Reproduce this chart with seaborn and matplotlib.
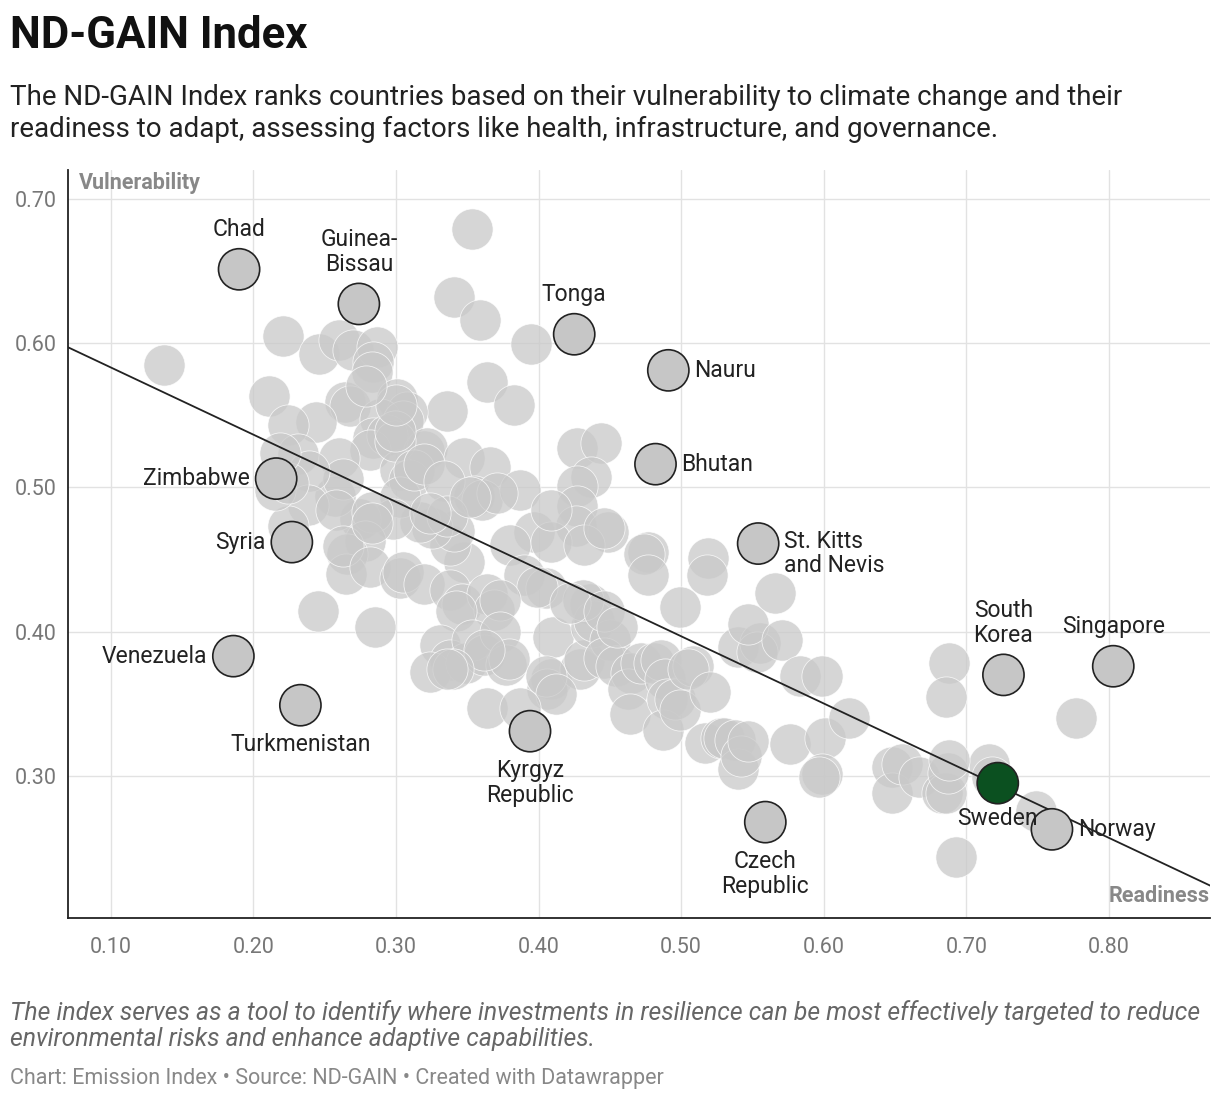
import matplotlib
matplotlib.use("Agg")
import matplotlib.pyplot as plt
import seaborn as sns
import pandas as pd
import numpy as np

bg_points = [
(0.137,0.585),(0.221,0.605),(0.246,0.592),(0.211,0.563),(0.260,0.602),(0.270,0.595),(0.287,0.597),(0.284,0.587),
(0.283,0.580),(0.341,0.632),(0.353,0.679),(0.359,0.616),(0.395,0.599),(0.364,0.573),(0.383,0.557),(0.336,0.553),
(0.301,0.561),(0.308,0.552),(0.264,0.559),(0.268,0.556),(0.244,0.545),(0.224,0.543),(0.231,0.523),(0.289,0.547),
(0.284,0.534),(0.305,0.546),(0.294,0.536),(0.282,0.526),(0.260,0.520),(0.320,0.525),(0.303,0.512),(0.322,0.527),
(0.348,0.520),(0.366,0.514),(0.355,0.494),(0.360,0.491),(0.387,0.498),(0.371,0.496),(0.427,0.527),(0.444,0.531),
(0.437,0.507),(0.427,0.501),(0.427,0.487),(0.426,0.473),(0.449,0.469),(0.397,0.469),(0.380,0.460),(0.409,0.462),
(0.390,0.439),(0.405,0.430),(0.399,0.431),(0.348,0.448),(0.338,0.460),(0.341,0.470),(0.325,0.472),(0.317,0.476),
(0.309,0.505),(0.303,0.493),(0.298,0.478),(0.275,0.478),(0.257,0.494),(0.263,0.506),(0.239,0.511),(0.238,0.488),
(0.224,0.473),(0.215,0.498),(0.258,0.484),(0.283,0.483),(0.278,0.463),(0.266,0.454),(0.265,0.440),(0.263,0.459),
(0.282,0.445),(0.303,0.437),(0.305,0.441),(0.320,0.433),(0.338,0.429),(0.346,0.419),(0.364,0.426),(0.369,0.415),
(0.373,0.422),(0.342,0.414),(0.331,0.391),(0.338,0.380),(0.324,0.372),(0.349,0.378),(0.353,0.394),(0.362,0.384),
(0.373,0.400),(0.377,0.377),(0.379,0.381),(0.364,0.347),(0.410,0.396),(0.409,0.367),(0.406,0.360),(0.429,0.374),
(0.432,0.380),(0.436,0.419),(0.437,0.403),(0.439,0.407),(0.450,0.394),(0.446,0.382),(0.454,0.376),(0.465,0.371),
(0.463,0.360),(0.464,0.343),(0.472,0.378),(0.481,0.378),(0.486,0.380),(0.489,0.367),(0.490,0.353),(0.487,0.332),
(0.496,0.353),(0.499,0.346),(0.508,0.376),(0.505,0.374),(0.520,0.358),(0.517,0.323),(0.528,0.326),(0.530,0.326),
(0.538,0.325),(0.540,0.305),(0.542,0.314),(0.547,0.324),(0.540,0.389),(0.555,0.392),(0.553,0.386),(0.547,0.405),
(0.571,0.394),(0.566,0.427),(0.519,0.451),(0.518,0.439),(0.499,0.417),(0.477,0.455),(0.474,0.454),(0.477,0.439),
(0.576,0.322),(0.583,0.369),(0.599,0.369),(0.601,0.326),(0.599,0.301),(0.597,0.299),(0.618,0.340),(0.648,0.306),
(0.648,0.288),(0.655,0.308),(0.667,0.299),(0.683,0.288),(0.686,0.288),(0.687,0.302),(0.688,0.378),(0.686,0.355),
(0.716,0.308),(0.718,0.299),(0.688,0.311),(0.693,0.244),(0.749,0.276),(0.777,0.340),(0.245,0.414),(0.285,0.403),
(0.224,0.503),(0.219,0.524),(0.299,0.532),(0.299,0.539),(0.300,0.557),(0.279,0.570),(0.283,0.475),(0.313,0.512),
(0.320,0.516),(0.334,0.504),(0.336,0.480),(0.352,0.493),(0.324,0.482),(0.409,0.484),(0.432,0.460),(0.446,0.472),
(0.431,0.422),(0.422,0.420),(0.446,0.414),(0.455,0.403),(0.405,0.369),(0.412,0.357),(0.387,0.347),(0.362,0.387),
(0.340,0.374),(0.336,0.374),
]
bg_x = [p[0] for p in bg_points]
bg_y = [p[1] for p in bg_points]

lab_names = ["Chad","Guinea-\nBissau","Tonga","Nauru","Bhutan","St. Kitts\nand Nevis","Zimbabwe","Syria",
             "Venezuela","Turkmenistan","Kyrgyz\nRepublic","Czech\nRepublic","South\nKorea","Singapore","Sweden","Norway"]
lab_x = [0.190,0.274,0.425,0.491,0.482,0.554,0.216,0.227,0.186,0.233,0.394,0.559,0.726,0.803,0.722,0.760]
lab_y = [0.651,0.627,0.606,0.581,0.516,0.461,0.506,0.462,0.383,0.349,0.331,0.268,0.370,0.376,0.295,0.263]
lab_pos = [(0,28,"center","bottom"),(0,28,"center","bottom"),(0,28,"center","bottom"),(26,0,"left","center"),
           (26,0,"left","center"),(26,0,"left","top_c"),(-26,0,"right","center"),(-26,0,"right","center"),
           (-26,0,"right","center"),(0,-28,"center","top"),(0,-28,"center","top"),(0,-28,"center","top"),
           (0,28,"center","bottom"),(0,28,"center","bottom"),(0,-24,"center","top"),(26,0,"left","center")]

trend_x = [0.07, 0.871]
trend_y = [0.597, 0.224]

sns.set_theme(style="white")
plt.rcParams['font.family'] = ['Roboto', 'DejaVu Sans']

fig = plt.figure(figsize=(12.2, 11.02), dpi=100)
ax = fig.add_axes([0.0557, 0.167, 0.9363, 0.679])

ax.set_xlim(0.07, 0.871)
ax.set_ylim(0.2016, 0.72)
ax.set_xticks([0.1,0.2,0.3,0.4,0.5,0.6,0.7,0.8])
ax.set_yticks([0.3,0.4,0.5,0.6,0.7])
ax.grid(True, color="#e2e2e2", lw=1)
ax.set_axisbelow(True)
for s in ["top","right"]:
    ax.spines[s].set_visible(False)
for s in ["left","bottom"]:
    ax.spines[s].set_color("#222222"); ax.spines[s].set_linewidth(1.3)
ax.tick_params(axis="both", length=0, labelsize=15.5, labelcolor="#777777")
ax.tick_params(axis="x", pad=14)
ax.tick_params(axis="y", pad=8)
ax.set_xticklabels([f"{v:.2f}" for v in ax.get_xticks()])
ax.set_yticklabels([f"{v:.2f}" for v in ax.get_yticks()])

sns.scatterplot(x=bg_x, y=bg_y, ax=ax, s=880, color="#c9c9c9", alpha=0.75, edgecolor="white", linewidth=0.6, zorder=2)
ax.plot(trend_x, trend_y, color="#222222", lw=1.3, zorder=3)
colors = ["#0b5020" if n == "Sweden" else "#c6c6c6" for n in lab_names]
sns.scatterplot(x=lab_x, y=lab_y, ax=ax, s=880, c=colors, edgecolor="#222222", linewidth=1.2, zorder=4)

for n, x, y, (dx, dy, ha, va) in zip(lab_names, lab_x, lab_y, lab_pos):
    if va == "top_c":
        ax.annotate(n, (x, y), xytext=(dx, 14), textcoords="offset pixels", ha=ha, va="top",
                    fontsize=16.5, color="#222222", linespacing=1.1, zorder=5)
    else:
        ax.annotate(n, (x, y), xytext=(dx, dy), textcoords="offset pixels", ha=ha, va=va,
                    fontsize=16.5, color="#222222", linespacing=1.1, zorder=5)

ax.text(0.01, 0.982, "Vulnerability", transform=ax.transAxes, ha="left", va="center",
        fontsize=15.5, fontweight="bold", color="#888888")
ax.text(1.0, 0.03, "Readiness", transform=ax.transAxes, ha="right", va="center",
        fontsize=15.5, fontweight="bold", color="#888888")

fig.text(0.008, 0.967, "ND-GAIN Index", fontsize=31.5, fontweight="bold", ha="left", va="center", color="#111111")
fig.text(0.008, 0.897, "The ND-GAIN Index ranks countries based on their vulnerability to climate change and their\n"
         "readiness to adapt, assessing factors like health, infrastructure, and governance.",
         fontsize=20, ha="left", va="center", color="#222222", linespacing=1.2)
fig.text(0.008, 0.069, "The index serves as a tool to identify where investments in resilience can be most effectively targeted to reduce\n"
         "environmental risks and enhance adaptive capabilities.",
         fontsize=17.8, ha="left", va="center", color="#666666", style="italic", linespacing=1.1)
fig.text(0.008, 0.021, "Chart: Emission Index • Source: ND-GAIN • Created with Datawrapper",
         fontsize=15.5, ha="left", va="center", color="#888888")

fig.savefig("out.png", dpi=100)
